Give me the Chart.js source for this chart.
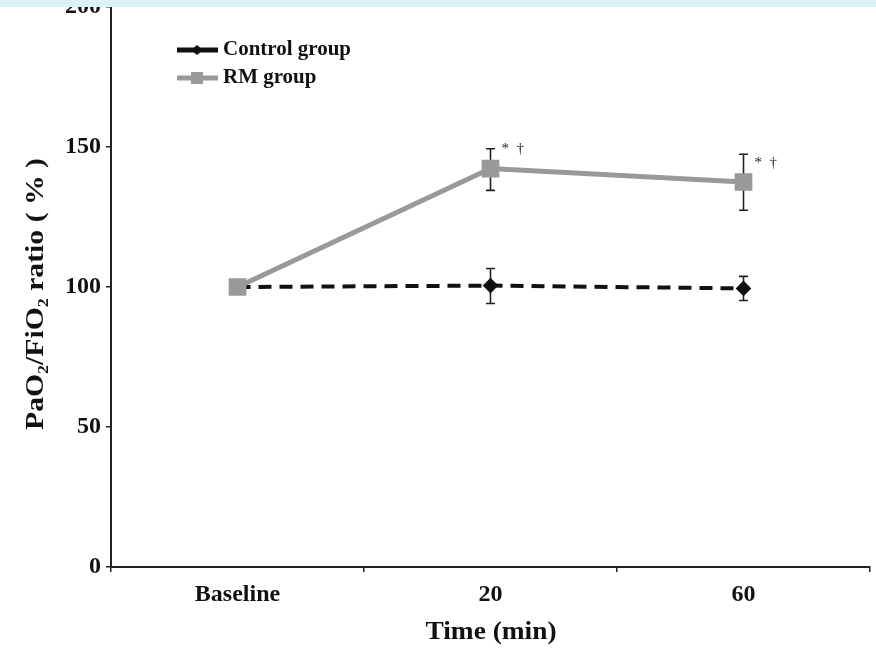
<!DOCTYPE html>
<html>
<head>
<meta charset="utf-8">
<script src="https://cdn.jsdelivr.net/npm/chart.js@4.4.1/dist/chart.umd.min.js"></script>
<style>
  html, body { margin: 0; padding: 0; background: #fff; }
  #wrap { width: 876px; height: 649px; position: relative; }
</style>
</head>
<body>
<div id="wrap"><canvas id="chart" width="876" height="649"></canvas></div>
<script>
// data
const timeLabels = ["Baseline", "20", "60"];
const rmMean = [100, 142.3, 137.5];
const rmHigh = [100, 149.4, 147.4];
const rmLow = [100, 134.5, 127.4];
const controlMean = [100, 100.5, 99.5];
const controlHigh = [100, 106.6, 103.8];
const controlLow = [100, 94.1, 95.2];
const starMarks = ["", "*  \u2020", "*  \u2020"];
const yTicks = [0, 50, 100, 150, 200];

const FONT = "'Liberation Serif', 'Times New Roman', serif";
Chart.defaults.font.family = FONT;
Chart.defaults.color = "#111";

// draw text stretched along its direction to a given width
function stretchText(ctx, parts, cx, cy, targetW) {
  let total = 0;
  parts.forEach(p => { ctx.font = p.font; total += ctx.measureText(p.text).width; });
  const k = targetW / total;
  ctx.save();
  ctx.translate(cx, cy);
  ctx.scale(k, 1);
  ctx.textAlign = "left";
  ctx.textBaseline = "middle";
  let x = -total / 2;
  parts.forEach(p => {
    ctx.font = p.font;
    ctx.fillText(p.text, x, p.dy || 0);
    x += ctx.measureText(p.text).width;
  });
  ctx.restore();
}

// error bars under the lines
const errorBars = {
  id: "errorBars",
  beforeDatasetsDraw(chart) {
    const ctx = chart.ctx;
    const y = chart.scales.y;
    const x = chart.scales.x;
    const sets = [[rmHigh, rmLow], [controlHigh, controlLow]];
    ctx.save();
    ctx.strokeStyle = "#222";
    ctx.lineWidth = 1.6;
    sets.forEach(([hi, lo]) => {
      hi.forEach((h, i) => {
        if (h === lo[i]) return;
        const px = x.getPixelForValue(i);
        const yt = y.getPixelForValue(h);
        const yb = y.getPixelForValue(lo[i]);
        ctx.beginPath();
        ctx.moveTo(px, yt); ctx.lineTo(px, yb);
        ctx.moveTo(px - 4.5, yt); ctx.lineTo(px + 4.5, yt);
        ctx.moveTo(px - 4.5, yb); ctx.lineTo(px + 4.5, yb);
        ctx.stroke();
      });
    });
    ctx.restore();
  }
};

// titles, legend, significance marks, top band
const extras = {
  id: "extras",
  afterDraw(chart) {
    const ctx = chart.ctx;
    const x = chart.scales.x;
    const y = chart.scales.y;
    ctx.save();

    // significance marks
    ctx.fillStyle = "#222";
    ctx.font = "15px " + FONT;
    ctx.textBaseline = "middle";
    ctx.textAlign = "left";
    starMarks.forEach((s, i) => {
      if (!s) return;
      ctx.fillText(s, x.getPixelForValue(i) + 11, y.getPixelForValue(rmMean[i]) - 19);
    });

    // legend
    ctx.lineCap = "butt";
    ctx.strokeStyle = "#111";
    ctx.lineWidth = 5;
    ctx.beginPath(); ctx.moveTo(177, 50); ctx.lineTo(218, 50); ctx.stroke();
    ctx.fillStyle = "#111";
    ctx.beginPath();
    ctx.moveTo(197, 45); ctx.lineTo(203, 50); ctx.lineTo(197, 55); ctx.lineTo(191, 50);
    ctx.closePath(); ctx.fill();
    ctx.strokeStyle = "#999";
    ctx.beginPath(); ctx.moveTo(177, 78); ctx.lineTo(218, 78); ctx.stroke();
    ctx.fillStyle = "#999";
    ctx.fillRect(191, 72, 12, 12);
    ctx.fillStyle = "#111";
    const legFont = "bold 20px " + FONT;
    stretchText(ctx, [{ text: "Control group", font: legFont }], 223 + 64, 50, 128);
    ctx.font = legFont;
    const w1 = ctx.measureText("Control group").width;
    const k = 128 / w1;
    stretchText(ctx, [{ text: "RM group", font: legFont }], 223 + ctx.measureText("RM group").width * k / 2, 78,
      ctx.measureText("RM group").width * k);

    // x title
    stretchText(ctx, [{ text: "Time (min)", font: "bold 25px " + FONT }], 491, 633, 131);

    // y title with subscripts
    ctx.save();
    ctx.translate(37, 294);
    ctx.rotate(-Math.PI / 2);
    const big = "bold 25px " + FONT;
    const small = "bold 15px " + FONT;
    stretchText(ctx, [
      { text: "PaO", font: big },
      { text: "2", font: small, dy: 7 },
      { text: "/FiO", font: big },
      { text: "2", font: small, dy: 7 },
      { text: " ratio ( % )", font: big }
    ], 0, 0, 272);
    ctx.restore();
    ctx.restore();

    // light band at the top of the page
    ctx.save();
    ctx.fillStyle = "#dcf2f7";
    ctx.fillRect(0, 0, chart.width, 7);
    ctx.restore();
  }
};

new Chart(document.getElementById("chart"), {
  type: "line",
  data: {
    labels: timeLabels,
    datasets: [
      {
        label: "RM group",
        data: rmMean,
        borderColor: "#999",
        backgroundColor: "#999",
        borderWidth: 5,
        pointStyle: "rect",
        pointRadius: 9,
        pointHoverRadius: 9,
        tension: 0
      },
      {
        label: "Control group",
        data: controlMean,
        borderColor: "#111",
        backgroundColor: "#111",
        borderWidth: 4,
        borderDash: [13, 8],
        pointStyle: "rectRot",
        pointRadius: 5,
        pointHoverRadius: 5,
        tension: 0
      }
    ]
  },
  options: {
    responsive: false,
    animation: false,
    layout: { autoPadding: false, padding: { top: 7, right: 6, left: 0, bottom: 0 } },
    plugins: { legend: { display: false }, tooltip: { enabled: false } },
    scales: {
      x: {
        offset: true,
        grid: { offset: true, drawOnChartArea: false, drawTicks: true, tickLength: 5, color: "#222", lineWidth: 1.5 },
        border: { display: true, color: "#222", width: 2 },
        ticks: { font: { size: 24, weight: "bold" }, color: "#111", padding: 8 },
        afterFit(scale) {
          scale.height = 82;
          scale.paddingLeft = 0;
          scale.paddingRight = 0;
        }
      },
      y: {
        min: 0,
        max: 200,
        afterBuildTicks(scale) { scale.ticks = yTicks.map(v => ({ value: v })); },
        grid: { drawOnChartArea: false, drawTicks: true, tickLength: 5, color: "#222", lineWidth: 1.5 },
        border: { display: true, color: "#222", width: 2 },
        ticks: { font: { size: 24, weight: "bold" }, color: "#111", padding: 5 },
        afterFit(scale) {
          scale.width = 111;
          scale.paddingTop = 0;
          scale.paddingBottom = 0;
        }
      }
    }
  },
  plugins: [errorBars, extras]
});
</script>
</body>
</html>
